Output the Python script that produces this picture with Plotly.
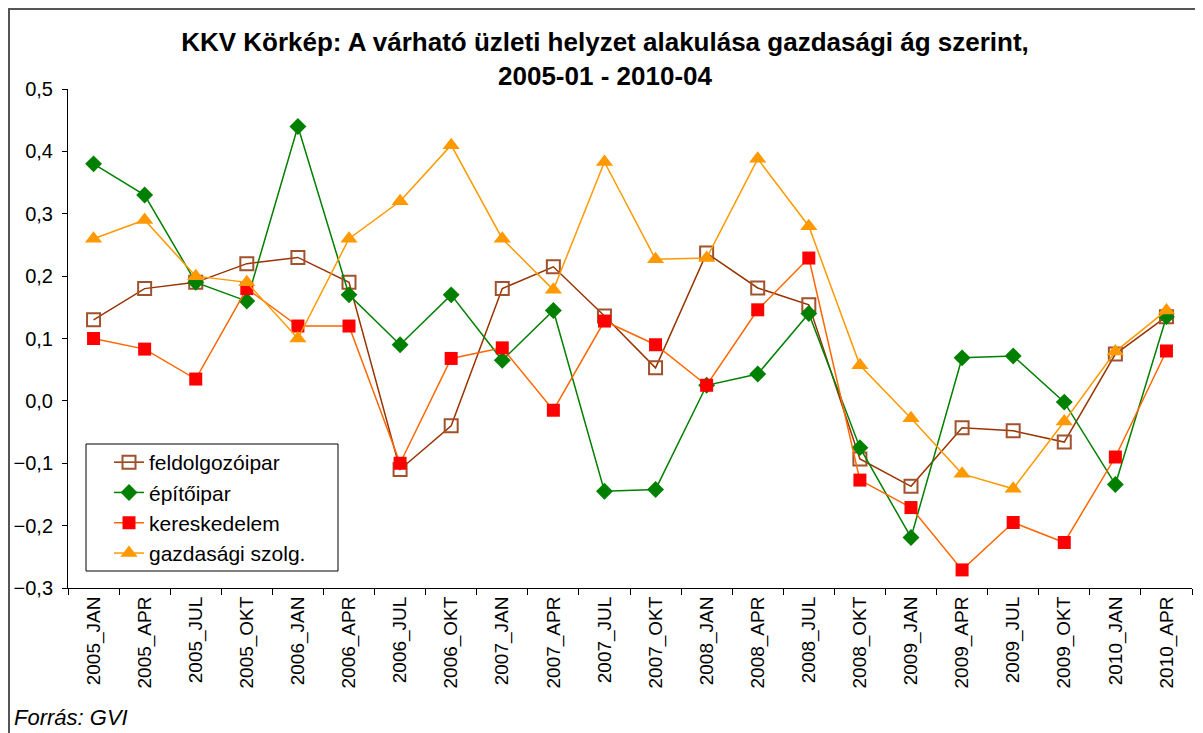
import plotly.graph_objects as go

categories = ["2005_JAN", "2005_APR", "2005_JUL", "2005_OKT", "2006_JAN", "2006_APR",
              "2006_JUL", "2006_OKT", "2007_JAN", "2007_APR", "2007_JUL", "2007_OKT",
              "2008_JAN", "2008_APR", "2008_JUL", "2008_OKT", "2009_JAN", "2009_APR",
              "2009_JUL", "2009_OKT", "2010_JAN", "2010_APR"]

feldolgozoipar = [0.13, 0.18, 0.19, 0.22, 0.23, 0.19, -0.11, -0.04, 0.18, 0.215, 0.136, 0.053,
                  0.237, 0.181, 0.154, -0.093, -0.137, -0.043, -0.048, -0.066, 0.075, 0.135]
epitoipar = [0.38, 0.33, 0.19, 0.16, 0.44, 0.17, 0.09, 0.17, 0.065, 0.145, -0.145, -0.142,
             0.025, 0.043, 0.14, -0.075, -0.219, 0.069, 0.072, -0.002, -0.134, 0.135]
kereskedelem = [0.1, 0.083, 0.035, 0.18, 0.12, 0.12, -0.1, 0.068, 0.085, -0.015, 0.128, 0.09,
                0.025, 0.146, 0.229, -0.127, -0.171, -0.271, -0.195, -0.227, -0.09, 0.08]
gazdasagi = [0.26, 0.29, 0.2, 0.19, 0.1, 0.26, 0.32, 0.41, 0.26, 0.178, 0.383, 0.227,
             0.229, 0.388, 0.28, 0.057, -0.028, -0.117, -0.141, -0.033, 0.079, 0.145]

series_names = ["feldolgozóipar", "építőipar", "kereskedelem", "gazdasági szolg."]
title_text = "KKV Körkép: A várható üzleti helyzet alakulása gazdasági ág szerint,<br>2005-01 - 2010-04"
source_text = "Forrás: GVI"

FONT = "Arial, 'Liberation Sans', sans-serif"

fig = go.Figure()
fig.add_trace(go.Scatter(
    x=categories, y=feldolgozoipar, name=series_names[0], mode="lines+markers",
    line=dict(color="#993300", width=1.5),
    marker=dict(symbol="square-open", size=13, color="#A0522D", line=dict(width=2, color="#A0522D"))))
fig.add_trace(go.Scatter(
    x=categories, y=epitoipar, name=series_names[1], mode="lines+markers",
    line=dict(color="#008000", width=1.5),
    marker=dict(symbol="diamond", size=13, color="#008000")))
fig.add_trace(go.Scatter(
    x=categories, y=kereskedelem, name=series_names[2], mode="lines+markers",
    line=dict(color="#FF6600", width=1.5),
    marker=dict(symbol="square", size=13, color="#FF0000")))
fig.add_trace(go.Scatter(
    x=categories, y=gazdasagi, name=series_names[3], mode="lines+markers",
    line=dict(color="#FF9900", width=1.5),
    marker=dict(symbol="triangle-up", size=15, color="#FF9900")))

# figure coordinates (page is offset by 8px body margin)
W, H = 1195, 725
L, R, T, B = 60, 11, 81, 145
pw, ph = W - L - R, H - T - B

def px_x(p):
    return (p - L) / pw

def px_y(p):
    return (H - B - p) / ph

fig.update_layout(
    width=W, height=H,
    margin=dict(l=L, r=R, t=T, b=B),
    paper_bgcolor="white", plot_bgcolor="white",
    separators=", ",
    font=dict(family=FONT, color="black", size=18),
    title=dict(text="<b>" + title_text + "</b>", x=597 / W, xanchor="center",
               y=1 - 43 / H, yanchor="top", yref="container",
               font=dict(family=FONT, size=26, color="black")),
    showlegend=True,
    legend=dict(x=px_x(101), y=px_y(434), xanchor="left", yanchor="top",
                borderwidth=0, bgcolor="rgba(0,0,0,0)",
                font=dict(family=FONT, size=21, color="black"),
                tracegroupgap=0),
    xaxis=dict(type="category", range=[-0.5, len(categories) - 0.5],
               showline=True, linecolor="black", linewidth=1,
               ticks="outside", ticklen=6, tickcolor="black", tickson="boundaries",
               tickangle=-90, showgrid=False, zeroline=False, automargin=False,
               tickfont=dict(family=FONT, size=19, color="black")),
    yaxis=dict(range=[-0.3, 0.5], dtick=0.1, tick0=0, tickformat=".1f",
               showline=True, linecolor="black", linewidth=1,
               ticks="outside", ticklen=5, tickcolor="black",
               ticklabelstandoff=5, automargin=False,
               showgrid=False, zeroline=False,
               tickfont=dict(family=FONT, size=20, color="black")),
    shapes=[
        dict(type="rect", xref="paper", yref="paper",
             x0=px_x(1), x1=px_x(1215), y0=px_y(745), y1=px_y(1),
             line=dict(color="#555555", width=2), layer="below"),
        dict(type="rect", xref="paper", yref="paper",
             x0=px_x(78), x1=px_x(330), y0=px_y(563), y1=px_y(436),
             line=dict(color="black", width=1), fillcolor="white", layer="above"),
    ],
    annotations=[dict(text="<i>" + source_text + "</i>", xref="paper", yref="paper",
                      x=px_x(4), y=px_y(709), xanchor="left", yanchor="middle",
                      showarrow=False, font=dict(family=FONT, size=22, color="black"))],
)

fig.write_html("out.html")
